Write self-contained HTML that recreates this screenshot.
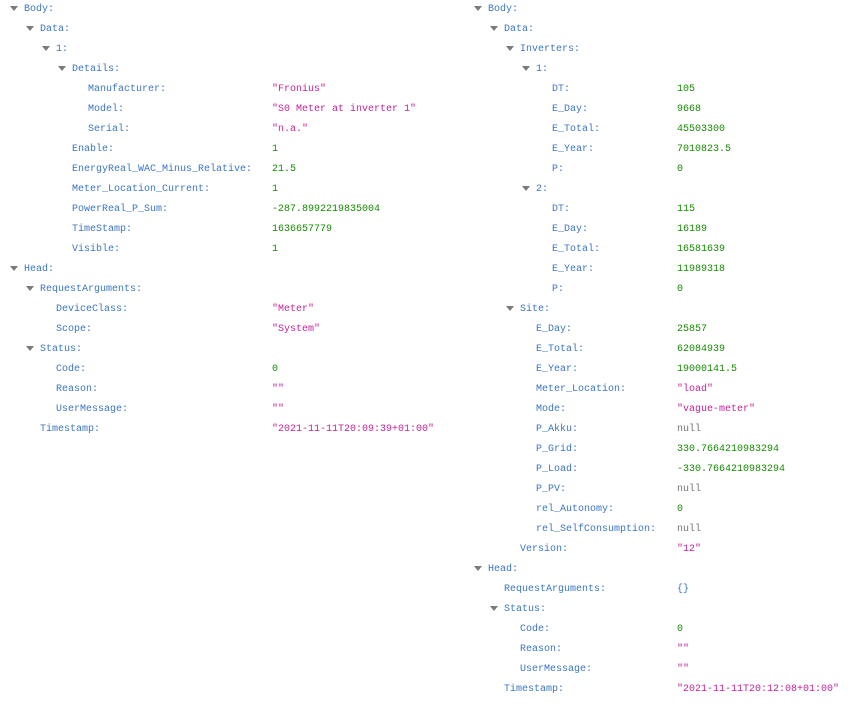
<!DOCTYPE html>
<html><head><meta charset="utf-8"><style>
html,body{margin:0;padding:0;background:#fff;width:856px;height:716px;overflow:hidden}
body{position:relative;font-family:"Liberation Mono",monospace;font-size:10px}
.k,.v,.a{position:absolute;line-height:16px;white-space:pre}
.k,.v{margin-top:2px}
.k{color:#3b76c3}
.s{color:#c2239a}
.n{color:#168a00}
.u{color:#737373}
.a{width:0;height:0;border-left:4px solid transparent;border-right:4px solid transparent;border-top:5px solid #7a7a7a;line-height:0}
</style></head><body>
<!-- LEFT -->
<i class="a" style="left:10px;top:6px"></i><span class="k" style="left:24px;top:0">Body:</span>
<i class="a" style="left:26px;top:26px"></i><span class="k" style="left:40px;top:20px">Data:</span>
<i class="a" style="left:42px;top:46px"></i><span class="k" style="left:56px;top:40px">1:</span>
<i class="a" style="left:58px;top:66px"></i><span class="k" style="left:72px;top:60px">Details:</span>
<span class="k" style="left:88px;top:80px">Manufacturer:</span><span class="v s" style="left:272px;top:80px">"Fronius"</span>
<span class="k" style="left:88px;top:100px">Model:</span><span class="v s" style="left:272px;top:100px">"S0 Meter at inverter 1"</span>
<span class="k" style="left:88px;top:120px">Serial:</span><span class="v s" style="left:272px;top:120px">"n.a."</span>
<span class="k" style="left:72px;top:140px">Enable:</span><span class="v n" style="left:272px;top:140px">1</span>
<span class="k" style="left:72px;top:160px">EnergyReal_WAC_Minus_Relative:</span><span class="v n" style="left:272px;top:160px">21.5</span>
<span class="k" style="left:72px;top:180px">Meter_Location_Current:</span><span class="v n" style="left:272px;top:180px">1</span>
<span class="k" style="left:72px;top:200px">PowerReal_P_Sum:</span><span class="v n" style="left:272px;top:200px">-287.8992219835004</span>
<span class="k" style="left:72px;top:220px">TimeStamp:</span><span class="v n" style="left:272px;top:220px">1636657779</span>
<span class="k" style="left:72px;top:240px">Visible:</span><span class="v n" style="left:272px;top:240px">1</span>
<i class="a" style="left:10px;top:266px"></i><span class="k" style="left:24px;top:260px">Head:</span>
<i class="a" style="left:26px;top:286px"></i><span class="k" style="left:40px;top:280px">RequestArguments:</span>
<span class="k" style="left:56px;top:300px">DeviceClass:</span><span class="v s" style="left:272px;top:300px">"Meter"</span>
<span class="k" style="left:56px;top:320px">Scope:</span><span class="v s" style="left:272px;top:320px">"System"</span>
<i class="a" style="left:26px;top:346px"></i><span class="k" style="left:40px;top:340px">Status:</span>
<span class="k" style="left:56px;top:360px">Code:</span><span class="v n" style="left:272px;top:360px">0</span>
<span class="k" style="left:56px;top:380px">Reason:</span><span class="v s" style="left:272px;top:380px">""</span>
<span class="k" style="left:56px;top:400px">UserMessage:</span><span class="v s" style="left:272px;top:400px">""</span>
<span class="k" style="left:40px;top:420px">Timestamp:</span><span class="v s" style="left:272px;top:420px">"2021-11-11T20:09:39+01:00"</span>
<!-- RIGHT -->
<i class="a" style="left:474px;top:6px"></i><span class="k" style="left:488px;top:0">Body:</span>
<i class="a" style="left:490px;top:26px"></i><span class="k" style="left:504px;top:20px">Data:</span>
<i class="a" style="left:506px;top:46px"></i><span class="k" style="left:520px;top:40px">Inverters:</span>
<i class="a" style="left:522px;top:66px"></i><span class="k" style="left:536px;top:60px">1:</span>
<span class="k" style="left:552px;top:80px">DT:</span><span class="v n" style="left:677px;top:80px">105</span>
<span class="k" style="left:552px;top:100px">E_Day:</span><span class="v n" style="left:677px;top:100px">9668</span>
<span class="k" style="left:552px;top:120px">E_Total:</span><span class="v n" style="left:677px;top:120px">45503300</span>
<span class="k" style="left:552px;top:140px">E_Year:</span><span class="v n" style="left:677px;top:140px">7010823.5</span>
<span class="k" style="left:552px;top:160px">P:</span><span class="v n" style="left:677px;top:160px">0</span>
<i class="a" style="left:522px;top:186px"></i><span class="k" style="left:536px;top:180px">2:</span>
<span class="k" style="left:552px;top:200px">DT:</span><span class="v n" style="left:677px;top:200px">115</span>
<span class="k" style="left:552px;top:220px">E_Day:</span><span class="v n" style="left:677px;top:220px">16189</span>
<span class="k" style="left:552px;top:240px">E_Total:</span><span class="v n" style="left:677px;top:240px">16581639</span>
<span class="k" style="left:552px;top:260px">E_Year:</span><span class="v n" style="left:677px;top:260px">11989318</span>
<span class="k" style="left:552px;top:280px">P:</span><span class="v n" style="left:677px;top:280px">0</span>
<i class="a" style="left:506px;top:306px"></i><span class="k" style="left:520px;top:300px">Site:</span>
<span class="k" style="left:536px;top:320px">E_Day:</span><span class="v n" style="left:677px;top:320px">25857</span>
<span class="k" style="left:536px;top:340px">E_Total:</span><span class="v n" style="left:677px;top:340px">62084939</span>
<span class="k" style="left:536px;top:360px">E_Year:</span><span class="v n" style="left:677px;top:360px">19000141.5</span>
<span class="k" style="left:536px;top:380px">Meter_Location:</span><span class="v s" style="left:677px;top:380px">"load"</span>
<span class="k" style="left:536px;top:400px">Mode:</span><span class="v s" style="left:677px;top:400px">"vague-meter"</span>
<span class="k" style="left:536px;top:420px">P_Akku:</span><span class="v u" style="left:677px;top:420px">null</span>
<span class="k" style="left:536px;top:440px">P_Grid:</span><span class="v n" style="left:677px;top:440px">330.7664210983294</span>
<span class="k" style="left:536px;top:460px">P_Load:</span><span class="v n" style="left:677px;top:460px">-330.7664210983294</span>
<span class="k" style="left:536px;top:480px">P_PV:</span><span class="v u" style="left:677px;top:480px">null</span>
<span class="k" style="left:536px;top:500px">rel_Autonomy:</span><span class="v n" style="left:677px;top:500px">0</span>
<span class="k" style="left:536px;top:520px">rel_SelfConsumption:</span><span class="v u" style="left:677px;top:520px">null</span>
<span class="k" style="left:520px;top:540px">Version:</span><span class="v s" style="left:677px;top:540px">"12"</span>
<i class="a" style="left:474px;top:566px"></i><span class="k" style="left:488px;top:560px">Head:</span>
<span class="k" style="left:504px;top:580px">RequestArguments:</span><span class="v k" style="left:677px;top:580px">{}</span>
<i class="a" style="left:490px;top:606px"></i><span class="k" style="left:504px;top:600px">Status:</span>
<span class="k" style="left:520px;top:620px">Code:</span><span class="v n" style="left:677px;top:620px">0</span>
<span class="k" style="left:520px;top:640px">Reason:</span><span class="v s" style="left:677px;top:640px">""</span>
<span class="k" style="left:520px;top:660px">UserMessage:</span><span class="v s" style="left:677px;top:660px">""</span>
<span class="k" style="left:504px;top:680px">Timestamp:</span><span class="v s" style="left:677px;top:680px">"2021-11-11T20:12:08+01:00"</span>
</body></html>
